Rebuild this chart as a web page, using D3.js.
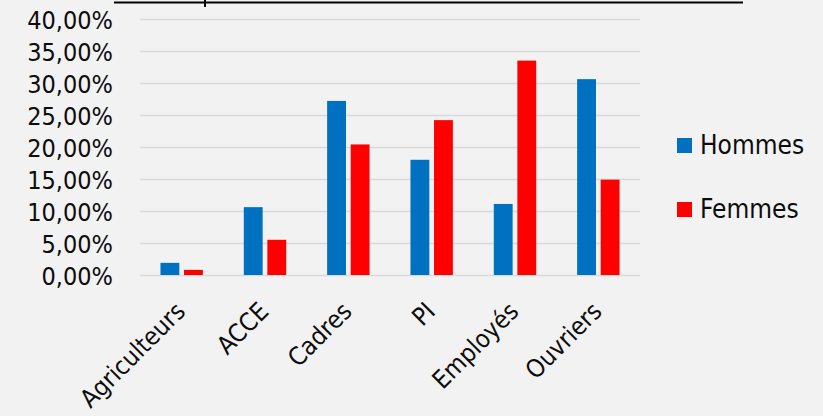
<!DOCTYPE html>
<html>
<head>
<meta charset="utf-8">
<script src="https://cdn.jsdelivr.net/npm/d3@7"></script>
<style>
body { margin: 0; background: #f2f2f2; }
svg text { font-family: "DejaVu Sans Condensed", "DejaVu Sans", sans-serif; fill: #0d0d0d; }
</style>
</head>
<body>
<div id="chart"></div>
<script>
// data
var categories = ["Agriculteurs", "ACCE", "Cadres", "PI", "Employés", "Ouvriers"];
var series = ["Hommes", "Femmes"];
var hommes = [0.019, 0.106, 0.272, 0.180, 0.111, 0.306];
var femmes = [0.008, 0.055, 0.204, 0.242, 0.335, 0.149];
var yTicks = [0, 0.05, 0.10, 0.15, 0.20, 0.25, 0.30, 0.35, 0.40];
var colors = ["#0070c0", "#ff0000"];

var width = 823, height = 416;
var margin = {top: 19, left: 140, right: 183, bottom: 141};

var svg = d3.select("#chart").append("svg")
  .attr("width", width)
  .attr("height", height);

svg.append("rect").attr("width", width).attr("height", height).attr("fill", "#f2f2f2");

// leftover of the title above (cut off)
svg.append("line")
  .attr("x1", 114).attr("x2", 743).attr("y1", 2.5).attr("y2", 2.5)
  .attr("stroke", "#000").attr("stroke-width", 2);
svg.append("line")
  .attr("x1", 205).attr("x2", 205).attr("y1", 0).attr("y2", 7)
  .attr("stroke", "#000").attr("stroke-width", 2);

var fr = d3.formatLocale({decimal: ",", thousands: " ", grouping: [3], currency: ["", " €"]});
var pct = fr.format(".2%");

var x = d3.scaleBand()
  .domain(categories)
  .range([margin.left, width - margin.right])
  .padding(0);

var y = d3.scaleLinear()
  .domain([0, 0.40])
  .range([height - margin.bottom, margin.top]);

var xs = d3.scaleBand()
  .domain(series)
  .range([-21.2, 21.2])
  .paddingInner(0.2);

// gridlines + y axis
var yAxis = svg.append("g")
  .attr("transform", "translate(" + margin.left + ",0)")
  .call(d3.axisLeft(y).tickValues(yTicks).tickFormat(pct)
    .tickSize(-(width - margin.left - margin.right)).tickPadding(27));
yAxis.select(".domain").remove();
yAxis.selectAll(".tick line").attr("stroke", "#d9d9d9").attr("stroke-width", 1.5);
yAxis.selectAll(".tick text").attr("font-size", 25).attr("fill", "#0d0d0d")
  .attr("dy", "0.36em");

// bars
var groups = svg.append("g").selectAll("g")
  .data(categories)
  .join("g")
  .attr("transform", function(d) { return "translate(" + (x(d) + x.bandwidth() / 2) + ",0)"; });

groups.selectAll("rect")
  .data(function(d, i) { return [ {s: "Hommes", v: hommes[i]}, {s: "Femmes", v: femmes[i]} ]; })
  .join("rect")
  .attr("x", function(d) { return xs(d.s); })
  .attr("width", xs.bandwidth())
  .attr("y", function(d) { return y(d.v); })
  .attr("height", function(d) { return y(0) - y(d.v); })
  .attr("fill", function(d) { return colors[series.indexOf(d.s)]; });

// x labels, rotated
svg.append("g").selectAll("text")
  .data(categories)
  .join("text")
  .attr("transform", function(d) {
    return "translate(" + (x(d) + x.bandwidth() / 2 + 5) + "," + (height - margin.bottom + 38) + ") rotate(-45)";
  })
  .attr("text-anchor", "end")
  .attr("font-size", 25)
  .text(function(d) { return d; });

// legend
var legend = svg.append("g").selectAll("g")
  .data(series)
  .join("g")
  .attr("transform", function(d, i) { return "translate(677," + (138 + i * 64) + ")"; });
legend.append("rect")
  .attr("width", 15).attr("height", 15)
  .attr("fill", function(d, i) { return colors[i]; });
legend.append("text")
  .attr("x", 23).attr("y", 15.5)
  .attr("font-size", 26)
  .text(function(d) { return d; });
</script>
</body>
</html>
